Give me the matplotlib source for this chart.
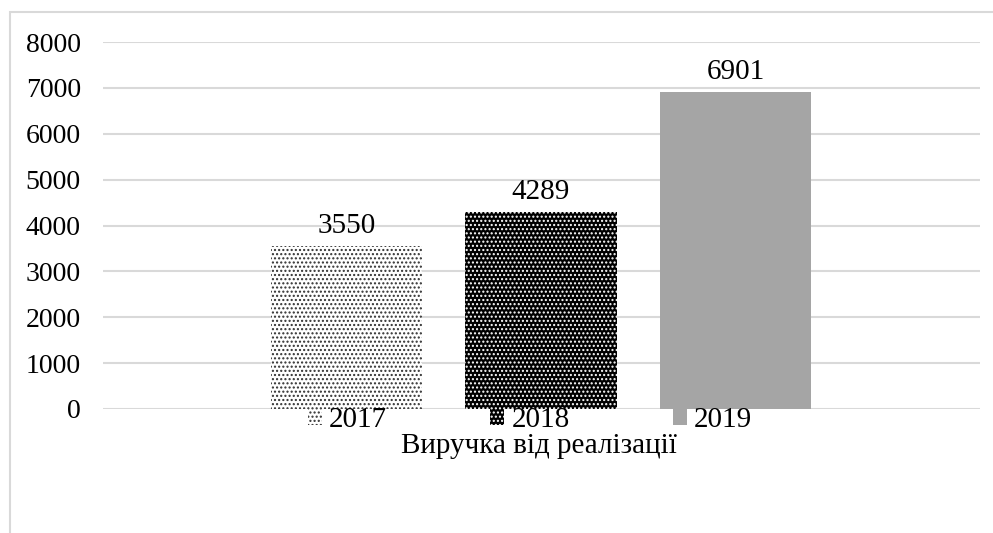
import matplotlib
matplotlib.use('Agg')
import matplotlib.pyplot as plt
from matplotlib.patches import Rectangle

# data
years = ['2017', '2018', '2019']
values = [3550, 4289, 6901]
category = 'Виручка від реалізації'
y_ticks = [0, 1000, 2000, 3000, 4000, 5000, 6000, 7000, 8000]

# styles per bar: face, hatch colour, hatch
styles = [
    ('white', '#303030', '....'),
    ('black', 'white', '....'),
    ('#a5a5a5', '#a5a5a5', None),
]

plt.rcParams['font.family'] = ['Liberation Serif', 'DejaVu Serif']
plt.rcParams['hatch.linewidth'] = 1.0

FS = 20

fig = plt.figure(figsize=(9.93, 5.33), dpi=100)
ax = fig.add_axes([103 / 993, 1 - 409 / 533, (980 - 103) / 993, (409 - 42) / 533])

for i, (yr, val, (fc, hc, h)) in enumerate(zip(years, values, styles)):
    ax.bar(i, val, width=0.78, color=fc, edgecolor=hc, hatch=h,
           linewidth=0, label=yr, zorder=2)
    ax.annotate(str(val), (i, val), xytext=(0, 5), textcoords='offset points',
                ha='center', va='bottom', fontsize=21)

ax.set_xlim(-1.252, 3.257)
ax.set_ylim(0, 8000)
ax.set_yticks(y_ticks)
ax.set_yticklabels([str(t) for t in y_ticks], fontsize=FS)
ax.tick_params(axis='y', length=0, pad=16)
ax.set_xticks([])
ax.grid(axis='y', color='#d9d9d9', linewidth=1.5, zorder=0)
ax.set_axisbelow(True)
for s in ax.spines.values():
    s.set_visible(False)

leg = ax.legend(loc='center', bbox_to_anchor=(530 / 993, 1 - 420 / 533),
                bbox_transform=fig.transFigure, ncol=3, frameon=False,
                fontsize=21, handlelength=0.48, handleheight=0.48,
                handletextpad=0.24, columnspacing=3.55, borderpad=0)

fig.text(539 / 993, 1 - 446 / 533, category, ha='center', va='center', fontsize=21)

# outer chart frame (left and top edges visible)
fig.patches.append(Rectangle((10 / 993, -0.1), 1.2, 1.1 - 12 / 533,
                             transform=fig.transFigure, fill=False,
                             edgecolor='#d9d9d9', linewidth=1.5))

fig.savefig('out.png', dpi=100)
